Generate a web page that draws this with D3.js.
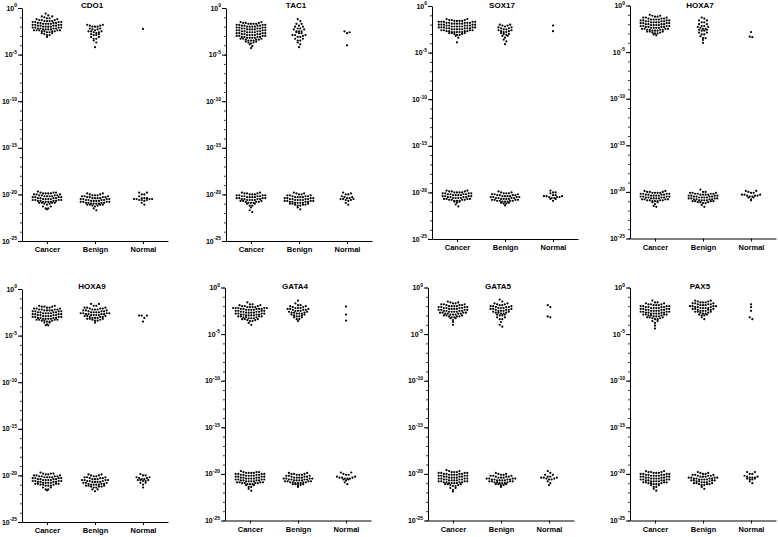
<!DOCTYPE html>
<html>
<head>
<meta charset="utf-8">
<script src="https://cdn.jsdelivr.net/npm/d3@7/dist/d3.min.js"></script>
<style>
  html, body { margin: 0; padding: 0; background: #fff; }
  svg { display: block; }
  text { font-family: "Liberation Sans", Arial, sans-serif; fill: #000; }
</style>
</head>
<body>
<svg id="chart" width="778" height="537"></svg>
<script>
// ---- DATA (values are log10 of relative level, given as [log10 value, number of samples]) ----
const categories = ["Cancer", "Benign", "Normal"];
const genes = ["CDO1", "TAC1", "SOX17", "HOXA7", "HOXA9", "GATA4", "GATA5", "PAX5"];
const tickExponents = [0, -5, -10, -15, -20, -25];

const cdo1Cancer = [[-0.6,1],[-0.8,1],[-0.9,2],[-1.0,1],[-1.1,2],[-1.2,2],[-1.3,3],[-1.4,4],[-1.5,4],[-1.6,4],[-1.7,4],[-1.8,4],[-1.9,4],[-2.0,4],[-2.1,4],[-2.2,4],[-2.3,4],[-2.4,5],[-2.5,4],[-2.6,2],[-2.7,2],[-2.8,1],[-2.9,2],[-3.1,1],
  [-19.7,1],[-19.8,3],[-19.9,4],[-20.0,3],[-20.1,4],[-20.2,4],[-20.3,4],[-20.4,4],[-20.5,4],[-20.6,4],[-20.7,4],[-20.8,4],[-20.9,4],[-21.0,2],[-21.1,1],[-21.3,2],[-21.5,2],[-21.6,1]];
const cdo1Benign = [[-1.8,2],[-1.9,2],[-2.0,3],[-2.2,2],[-2.3,2],[-2.4,1],[-2.5,3],[-2.6,2],[-2.7,1],[-2.8,2],[-2.9,2],[-3.1,2],[-3.3,2],[-3.5,1],[-3.7,1],[-4.2,1],
  [-19.9,2],[-20.0,2],[-20.1,3],[-20.2,3],[-20.3,4],[-20.4,4],[-20.5,4],[-20.6,4],[-20.7,4],[-20.8,4],[-20.9,4],[-21.0,4],[-21.1,4],[-21.2,2],[-21.3,1],[-21.5,1],[-21.7,1]];
const cdo1Normal = [[-2.25,1],
  [-19.8,2],[-20.0,2],[-20.2,1],[-20.4,3],[-20.5,4],[-20.6,3],[-20.7,1],[-20.9,1],[-21.1,1]];

const tac1Cancer = [[-1.5,2],[-1.6,3],[-1.7,4],[-1.8,4],[-1.9,4],[-2.0,4],[-2.1,4],[-2.2,4],[-2.3,4],[-2.4,4],[-2.5,4],[-2.6,4],[-2.7,4],[-2.8,4],[-2.9,4],[-3.0,4],[-3.1,4],[-3.2,4],[-3.3,3],[-3.4,3],[-3.5,3],[-3.6,2],[-3.7,2],[-3.8,1],[-3.9,1],[-4.1,1],[-4.3,1],
  [-19.8,2],[-19.9,3],[-20.0,3],[-20.1,4],[-20.2,4],[-20.3,4],[-20.4,4],[-20.5,4],[-20.6,4],[-20.7,3],[-20.8,3],[-20.9,3],[-21.0,2],[-21.2,2],[-21.4,1],[-21.7,1],[-21.9,1]];
const tac1Benign = [[-1.2,1],[-1.4,1],[-1.7,2],[-1.9,1],[-2.0,2],[-2.2,2],[-2.3,2],[-2.5,3],[-2.6,1],[-2.7,2],[-2.9,3],[-3.0,1],[-3.1,2],[-3.3,2],[-3.5,2],[-3.7,1],[-3.9,1],[-4.2,1],
  [-19.8,1],[-19.9,2],[-20.0,2],[-20.1,3],[-20.2,3],[-20.3,4],[-20.4,4],[-20.5,4],[-20.6,4],[-20.7,4],[-20.8,4],[-20.9,4],[-21.0,3],[-21.1,3],[-21.2,2],[-21.4,1],[-21.6,1]];
const tac1Normal = [[-2.5,1],[-2.6,1],[-2.7,1],[-4.0,1],
  [-19.8,1],[-19.9,1],[-20.0,2],[-20.2,1],[-20.3,2],[-20.4,2],[-20.5,3],[-20.6,2],[-20.7,1],[-20.9,1],[-21.1,1]];

const sox17Cancer = [[-1.4,2],[-1.5,3],[-1.6,4],[-1.7,5],[-1.8,5],[-1.9,5],[-2.0,5],[-2.1,5],[-2.2,5],[-2.3,5],[-2.4,5],[-2.5,5],[-2.6,4],[-2.7,4],[-2.8,5],[-2.9,3],[-3.0,2],[-3.1,2],[-3.2,1],[-3.4,1],[-3.9,1],
  [-19.8,2],[-19.9,3],[-20.0,4],[-20.1,4],[-20.2,4],[-20.3,4],[-20.4,4],[-20.5,4],[-20.6,4],[-20.7,4],[-20.8,4],[-20.9,3],[-21.0,2],[-21.1,1],[-21.3,1],[-21.5,1]];
const sox17Benign = [[-2.0,2],[-2.1,2],[-2.2,1],[-2.3,2],[-2.4,2],[-2.5,2],[-2.6,2],[-2.7,2],[-2.8,2],[-2.9,1],[-3.0,2],[-3.1,1],[-3.2,2],[-3.4,1],[-3.6,1],[-3.8,1],[-4.1,1],
  [-19.9,1],[-20.0,2],[-20.1,3],[-20.2,3],[-20.3,4],[-20.4,4],[-20.5,4],[-20.6,4],[-20.7,4],[-20.8,4],[-20.9,4],[-21.0,3],[-21.1,2],[-21.2,2],[-21.4,1]];
const sox17Normal = [[-2.1,1],[-2.7,1],
  [-19.8,1],[-20.0,2],[-20.1,1],[-20.3,2],[-20.4,3],[-20.5,3],[-20.6,2],[-20.7,2],[-20.9,1]];

const hoxa7Cancer = [[-1.0,1],[-1.1,2],[-1.2,2],[-1.3,3],[-1.4,3],[-1.5,4],[-1.6,4],[-1.7,4],[-1.8,4],[-1.9,4],[-2.0,4],[-2.1,4],[-2.2,4],[-2.3,4],[-2.4,4],[-2.5,4],[-2.6,4],[-2.7,3],[-2.8,3],[-2.9,2],[-3.0,2],[-3.1,1],[-3.2,1],
  [-19.9,2],[-20.0,3],[-20.1,4],[-20.2,4],[-20.3,4],[-20.4,4],[-20.5,4],[-20.6,4],[-20.7,4],[-20.8,4],[-20.9,4],[-21.0,3],[-21.1,2],[-21.3,1],[-21.5,1],[-21.6,1]];
const hoxa7Benign = [[-1.3,1],[-1.4,1],[-1.6,2],[-1.8,2],[-2.0,2],[-2.2,2],[-2.3,2],[-2.4,1],[-2.5,2],[-2.6,2],[-2.7,2],[-2.9,2],[-3.1,2],[-3.3,1],[-3.5,2],[-3.7,1],[-4.0,1],
  [-19.75,1],[-20.0,2],[-20.1,3],[-20.2,4],[-20.3,4],[-20.4,4],[-20.5,4],[-20.6,4],[-20.7,4],[-20.8,4],[-20.9,4],[-21.0,4],[-21.1,3],[-21.2,2],[-21.4,1],[-21.6,1]];
const hoxa7Normal = [[-2.85,1],[-3.35,1],[-3.4,1],
  [-19.9,2],[-20.0,1],[-20.1,2],[-20.3,3],[-20.4,3],[-20.5,2],[-20.6,2],[-20.8,1],[-20.9,1]];

const hoxa9Cancer = [[-1.8,2],[-1.9,3],[-2.0,2],[-2.1,3],[-2.2,4],[-2.3,4],[-2.4,4],[-2.5,4],[-2.6,4],[-2.7,4],[-2.8,4],[-2.9,4],[-3.0,4],[-3.1,4],[-3.2,4],[-3.3,4],[-3.4,3],[-3.5,2],[-3.6,2],[-3.8,1],[-3.9,2],
  [-19.7,1],[-19.8,3],[-19.9,2],[-20.0,3],[-20.1,4],[-20.2,4],[-20.3,4],[-20.4,4],[-20.5,4],[-20.6,4],[-20.7,4],[-20.8,4],[-20.9,4],[-21.0,3],[-21.1,3],[-21.3,2],[-21.5,2],[-21.6,1]];
const hoxa9Benign = [[-1.6,2],[-1.8,2],[-2.0,3],[-2.1,3],[-2.2,3],[-2.3,3],[-2.4,3],[-2.5,4],[-2.6,4],[-2.7,4],[-2.8,4],[-2.9,3],[-3.0,3],[-3.1,3],[-3.2,3],[-3.3,2],[-3.4,2],[-3.6,1],
  [-19.9,2],[-20.0,2],[-20.1,2],[-20.2,3],[-20.3,3],[-20.4,3],[-20.5,4],[-20.6,3],[-20.7,4],[-20.8,3],[-20.9,3],[-21.0,4],[-21.1,3],[-21.2,3],[-21.3,2],[-21.5,2],[-21.7,1]];
const hoxa9Normal = [[-2.85,3],[-3.1,1],[-3.5,1],
  [-19.85,1],[-20.0,2],[-20.2,2],[-20.3,2],[-20.4,2],[-20.5,3],[-20.6,2],[-20.8,2],[-21.0,1],[-21.3,1]];

const gata4Cancer = [[-1.6,1],[-1.8,2],[-1.9,2],[-2.0,3],[-2.1,4],[-2.2,5],[-2.3,5],[-2.4,4],[-2.5,4],[-2.6,4],[-2.7,4],[-2.8,4],[-2.9,4],[-3.0,4],[-3.1,4],[-3.2,3],[-3.3,3],[-3.4,3],[-3.5,2],[-3.6,2],[-3.8,1],[-4.0,1],
  [-19.7,1],[-19.8,3],[-19.9,4],[-20.0,4],[-20.1,4],[-20.2,4],[-20.3,4],[-20.4,4],[-20.5,4],[-20.6,4],[-20.7,4],[-20.8,4],[-20.9,4],[-21.0,4],[-21.1,3],[-21.2,2],[-21.4,2],[-21.6,1],[-21.8,1]];
const gata4Benign = [[-1.4,1],[-1.7,1],[-1.9,2],[-2.0,2],[-2.1,2],[-2.2,3],[-2.3,3],[-2.4,3],[-2.5,3],[-2.6,2],[-2.7,3],[-2.8,3],[-2.9,2],[-3.0,2],[-3.1,2],[-3.2,2],[-3.4,2],[-3.6,1],
  [-19.9,2],[-20.0,3],[-20.1,3],[-20.2,3],[-20.3,3],[-20.4,4],[-20.5,4],[-20.6,4],[-20.7,4],[-20.8,4],[-20.9,4],[-21.0,3],[-21.1,3],[-21.2,2],[-21.4,1]];
const gata4Normal = [[-2.05,1],[-2.9,1],[-3.55,1],
  [-19.85,2],[-20.0,1],[-20.1,2],[-20.3,2],[-20.4,3],[-20.5,3],[-20.6,2],[-20.7,1],[-20.9,1],[-21.1,1]];

const gata5Cancer = [[-1.5,1],[-1.6,2],[-1.7,2],[-1.8,3],[-1.9,3],[-2.0,4],[-2.1,4],[-2.2,4],[-2.3,4],[-2.4,4],[-2.5,4],[-2.6,4],[-2.7,4],[-2.8,4],[-2.9,3],[-3.0,3],[-3.1,3],[-3.2,2],[-3.3,2],[-3.5,1],[-3.7,1],[-4.0,1],
  [-19.6,1],[-19.7,2],[-19.8,3],[-19.9,4],[-20.0,4],[-20.1,4],[-20.2,4],[-20.3,4],[-20.4,4],[-20.5,4],[-20.6,4],[-20.7,4],[-20.8,4],[-20.9,4],[-21.0,4],[-21.1,3],[-21.2,2],[-21.3,2],[-21.5,2],[-21.7,1],[-21.9,1]];
const gata5Benign = [[-1.3,1],[-1.5,1],[-1.7,2],[-1.8,2],[-1.9,2],[-2.0,3],[-2.1,3],[-2.2,3],[-2.3,3],[-2.4,3],[-2.5,3],[-2.6,2],[-2.7,3],[-2.8,2],[-2.9,2],[-3.0,2],[-3.2,2],[-3.4,2],[-3.7,1],[-4.0,1],[-4.2,1],
  [-19.9,1],[-20.0,2],[-20.1,2],[-20.2,3],[-20.3,3],[-20.4,3],[-20.5,4],[-20.6,4],[-20.7,4],[-20.8,4],[-20.9,3],[-21.0,3],[-21.1,3],[-21.2,2],[-21.4,1]];
const gata5Normal = [[-1.9,1],[-2.1,1],[-3.1,1],[-3.2,1],
  [-19.7,1],[-19.9,1],[-20.1,2],[-20.3,2],[-20.4,3],[-20.5,2],[-20.6,2],[-20.8,1],[-21.0,1],[-21.2,1]];

const pax5Cancer = [[-1.4,1],[-1.6,2],[-1.7,2],[-1.8,3],[-1.9,3],[-2.0,4],[-2.1,4],[-2.2,4],[-2.3,4],[-2.4,4],[-2.5,4],[-2.6,4],[-2.7,4],[-2.8,4],[-2.9,4],[-3.0,3],[-3.1,3],[-3.2,3],[-3.3,2],[-3.4,2],[-3.6,2],[-3.8,1],[-4.1,1],[-4.4,1],
  [-19.7,2],[-19.8,3],[-19.9,3],[-20.0,4],[-20.1,4],[-20.2,4],[-20.3,4],[-20.4,4],[-20.5,4],[-20.6,4],[-20.7,4],[-20.8,4],[-20.9,4],[-21.0,3],[-21.1,3],[-21.2,2],[-21.4,2],[-21.6,1],[-21.8,1]];
const pax5Benign = [[-1.4,2],[-1.5,2],[-1.6,3],[-1.7,3],[-1.8,3],[-1.9,3],[-2.0,4],[-2.1,3],[-2.2,4],[-2.3,3],[-2.4,3],[-2.5,3],[-2.6,3],[-2.7,2],[-2.8,2],[-2.9,2],[-3.0,2],[-3.2,1],[-3.4,1],
  [-19.8,1],[-19.9,2],[-20.0,2],[-20.1,3],[-20.2,3],[-20.3,3],[-20.4,4],[-20.5,4],[-20.6,4],[-20.7,4],[-20.8,3],[-20.9,3],[-21.0,3],[-21.1,3],[-21.2,2],[-21.4,1],[-21.6,1]];
const pax5Normal = [[-1.8,1],[-2.1,1],[-2.5,1],[-3.2,1],[-3.4,1],
  [-19.8,2],[-20.0,2],[-20.2,1],[-20.3,2],[-20.4,3],[-20.5,2],[-20.6,2],[-20.8,1],[-21.0,1]];

const geneData = {
  CDO1: [cdo1Cancer, cdo1Benign, cdo1Normal],
  TAC1: [tac1Cancer, tac1Benign, tac1Normal],
  SOX17: [sox17Cancer, sox17Benign, sox17Normal],
  HOXA7: [hoxa7Cancer, hoxa7Benign, hoxa7Normal],
  HOXA9: [hoxa9Cancer, hoxa9Benign, hoxa9Normal],
  GATA4: [gata4Cancer, gata4Benign, gata4Normal],
  GATA5: [gata5Cancer, gata5Benign, gata5Normal],
  PAX5: [pax5Cancer, pax5Benign, pax5Normal]
};

// ---- LAYOUT ----
const panelLeft = [22, 226, 432, 630, 22, 225, 428, 630];
const panelTop = [8, 8, 6, 5.5, 289, 287.5, 287.5, 287.5];
const titleBase = [8, 8, 8, 8, 288.5, 288.5, 288.5, 288.5];
const plotH = 233, plotW = 146;
const dotR = 1.1, dotDx = 2.6, rowH = 2.7;

const svg = d3.select("#chart");
svg.append("rect").attr("width", 778).attr("height", 537).attr("fill", "#fff");

function expand(pairs) {
  const out = [];
  pairs.forEach(([e, n]) => { for (let i = 0; i < n; i++) out.push(Math.pow(10, e)); });
  return out;
}

function swarm(values, cx, y) {
  const pts = values.map(v => ({ v, py: y(v) })).sort((a, b) => a.py - b.py);
  const rows = [];
  let cur = null;
  pts.forEach(p => {
    if (!cur || p.py - cur.start >= rowH) { cur = { start: p.py, pts: [] }; rows.push(cur); }
    cur.pts.push(p);
  });
  rows.forEach(row => {
    const n = row.pts.length;
    const slots = d3.range(n).map(i => (i - (n - 1) / 2) * dotDx);
    slots.sort((a, b) => (Math.abs(a) - Math.abs(b)) || (b - a));
    const sorted = row.pts.slice().sort((a, b) => b.py - a.py);
    sorted.forEach((p, i) => { p.px = cx + slots[i]; });
  });
  return pts;
}

genes.forEach((gene, gi) => {
  const left = panelLeft[gi], top = panelTop[gi];
  const g = svg.append("g");
  const y = d3.scaleLog().domain([1e-25, 1]).range([top + plotH, top]);
  const x = d3.scalePoint().domain(categories).range([left, left + plotW]).padding(0.52);

  // minor ticks (every decade)
  const minorVals = d3.range(-25, 1).map(e => Math.pow(10, e));
  g.append("g").attr("transform", `translate(${left},0)`)
    .call(d3.axisLeft(y).tickValues(minorVals).tickFormat("").tickSize(2).tickSizeOuter(0))
    .call(s => s.select(".domain").remove())
    .selectAll("line").attr("stroke", "#000").attr("stroke-width", 0.8);

  // major ticks
  const majorVals = tickExponents.map(e => Math.pow(10, e));
  const yAxis = g.append("g").attr("transform", `translate(${left},0)`)
    .call(d3.axisLeft(y).tickValues(majorVals).tickFormat("").tickSize(4).tickSizeOuter(0));
  yAxis.select(".domain").attr("stroke", "#000").attr("stroke-width", 1);
  yAxis.selectAll("line").attr("stroke", "#000").attr("stroke-width", 1);

  // tick labels 10^e
  tickExponents.forEach(e => {
    const t = g.append("text")
      .attr("x", left - 5).attr("y", y(Math.pow(10, e)) + 2.5)
      .attr("text-anchor", "end")
      .style("font-size", "7px").style("font-weight", "bold");
    t.append("tspan").text("10");
    t.append("tspan").attr("dy", -3.2).style("font-size", "5px").text(e === 0 ? "0" : "-" + Math.abs(e));
  });

  // x axis
  const xAxis = g.append("g").attr("transform", `translate(0,${top + plotH})`)
    .call(d3.axisBottom(x).tickSize(3).tickSizeOuter(0));
  xAxis.select(".domain").attr("stroke", "#000").attr("stroke-width", 1);
  xAxis.selectAll("line").attr("stroke", "#000").attr("stroke-width", 1);
  xAxis.selectAll("text")
    .attr("y", 11).attr("dy", 0)
    .style("font-size", "7.5px").style("font-weight", "bold")
    .style("font-family", '"Liberation Sans", Arial, sans-serif').attr("fill", "#000");

  // title
  g.append("text")
    .attr("x", left + 70).attr("y", titleBase[gi])
    .attr("text-anchor", "middle")
    .style("font-size", "8px").style("font-weight", "bold")
    .text(gene);

  // dots
  geneData[gene].forEach((pairs, ci) => {
    const pts = swarm(expand(pairs), x(categories[ci]), y);
    g.append("g").selectAll("circle").data(pts).join("circle")
      .attr("cx", d => d.px).attr("cy", d => d.py).attr("r", dotR).attr("fill", "#000");
  });
});
</script>
</body>
</html>
